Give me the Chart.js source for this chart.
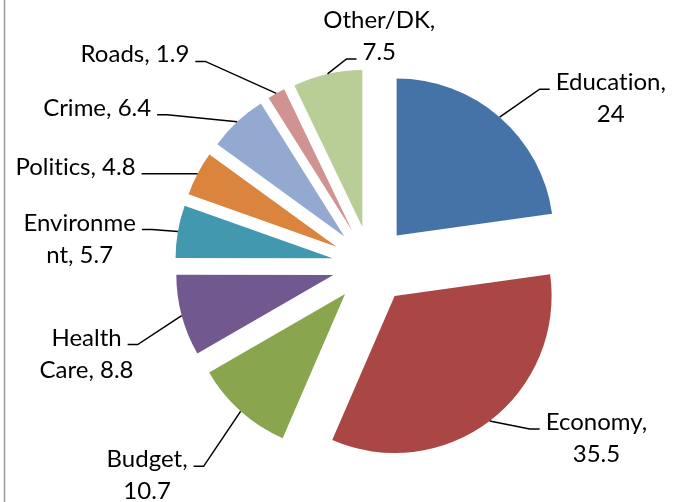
<!DOCTYPE html>
<html>
<head>
<meta charset="utf-8">
<script src="https://cdn.jsdelivr.net/npm/chart.js@4"></script>
<style>
  body { margin: 0; background: #fff; }
  #wrap { position: relative; width: 674px; height: 502px; }
</style>
</head>
<body>
<div id="wrap"><canvas id="myChart"></canvas></div>
<script>
// Data (clockwise from 12 o'clock)
const categories = ["Education", "Economy", "Budget", "Health Care", "Environment", "Politics", "Crime", "Roads", "Other/DK"];
const values = [24, 35.5, 10.7, 8.8, 5.7, 4.8, 6.4, 1.9, 7.5];
// where Excel wrapped each label (character index, null = one line)
const labelBreaks = [10, 8, 7, 6, 9, null, null, null, 9];

const sliceColors = ["#4572A7", "#AA4643", "#89A54E", "#71588F", "#4198AF", "#DB843D", "#93A9CF", "#D19392", "#B9CD96"];

// label placement, relative to where the leader leaves the slice
const labelLayout = [
  { dx: 50, dy: -28, side: "right", attach: 0 },
  { dx: 50, dy: 8, side: "right", attach: 0 },
  { dx: -47, dy: 55, side: "left", attach: 0 },
  { dx: -54, dy: 29, side: "left", attach: 0 },
  { dx: -36, dy: -2, side: "left", attach: 0 },
  { dx: -56, dy: 0, side: "left", attach: 0 },
  { dx: -80, dy: -7, side: "left", attach: 0 },
  { dx: -81, dy: -32, side: "left", attach: 0 },
  { dx: 29, dy: -15, side: "right", attach: 1 },
];

const RADIUS = 157;
const EXPLODE = 39; // pixels each slice is pulled out
const FONT = "24px Lato";
const LINE_H = 32;

function labelLines(i) {
  const txt = categories[i] + ", " + values[i];
  const b = labelBreaks[i];
  if (b == null) return [txt];
  return [txt.slice(0, b).trim(), txt.slice(b).trim()];
}

// no ligatures (Lato joins "ti"), Excel's font doesn't
function noLig(s) {
  return s.split("").join("\u200C");
}

// pull every slice out along its middle angle (Excel style explode)
const explode = {
  id: "explode",
  afterDatasetUpdate(chart, args) {
    const meta = chart.getDatasetMeta(args.index);
    meta.data.forEach((arc) => {
      const mid = (arc.startAngle + arc.endAngle) / 2;
      arc.x += Math.cos(mid) * EXPLODE;
      arc.y += Math.sin(mid) * EXPLODE;
    });
  },
};

// data labels with leader lines
const leaderLabels = {
  id: "leaderLabels",
  afterDatasetsDraw(chart) {
    const ctx = chart.ctx;
    const meta = chart.getDatasetMeta(0);
    ctx.save();
    ctx.font = FONT;
    ctx.fillStyle = "#000";
    ctx.strokeStyle = "#000";
    ctx.lineWidth = 1.5;
    ctx.textBaseline = "alphabetic";
    ctx.textAlign = "center";
    meta.data.forEach((arc, i) => {
      const mid = (arc.startAngle + arc.endAngle) / 2;
      const px = arc.x + Math.cos(mid) * arc.outerRadius;
      const py = arc.y + Math.sin(mid) * arc.outerRadius;
      const lay = labelLayout[i];
      const hx = px + lay.dx;
      const hy = py + lay.dy;
      const ex = lay.side === "right" ? hx - 10 : hx + 10;

      ctx.beginPath();
      ctx.moveTo(px, py);
      ctx.lineTo(ex, hy);
      ctx.lineTo(hx, hy);
      ctx.stroke();

      const lines = labelLines(i).map(noLig);
      const wA = ctx.measureText(lines[lay.attach]).width;
      const cx = lay.side === "right" ? hx + 6 + wA / 2 : hx - 6 - wA / 2;
      lines.forEach((ln, k) => {
        ctx.fillText(ln, cx, hy + 1 + (k - lay.attach) * LINE_H);
      });
    });
    ctx.restore();
  },
};

// chart frame edge visible on the left
const frame = {
  id: "frame",
  beforeDraw(chart) {
    const ctx = chart.ctx;
    ctx.save();
    ctx.fillStyle = "#fff";
    ctx.fillRect(0, 0, chart.width, chart.height);
    ctx.strokeStyle = "#9a9a9a";
    ctx.lineWidth = 1.5;
    ctx.beginPath();
    ctx.moveTo(4.5, 0);
    ctx.lineTo(4.5, chart.height);
    ctx.stroke();
    ctx.restore();
  },
};

const ctx = document.getElementById("myChart").getContext("2d");

const chart = new Chart(ctx, {
  type: "pie",
  data: {
    labels: categories,
    datasets: [
      {
        data: values,
        backgroundColor: sliceColors,
        borderWidth: 0,
      },
    ],
  },
  options: {
    responsive: true,
    maintainAspectRatio: false,
    animation: false,
    events: [],
    radius: RADIUS,
    layout: { padding: { left: 68, top: 28, right: 0, bottom: 0 } },
    plugins: {
      legend: { display: false },
      tooltip: { enabled: false },
    },
  },
  plugins: [frame, explode, leaderLabels],
});
</script>
</body>
</html>
